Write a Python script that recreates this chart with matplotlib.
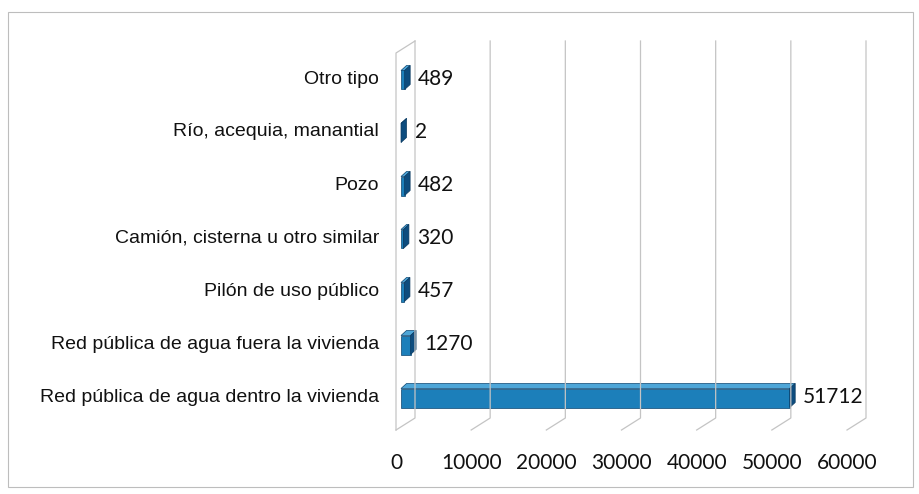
import matplotlib.pyplot as plt
from matplotlib.patches import Polygon, Rectangle
from matplotlib.transforms import IdentityTransform

categories = [
    "Red pública de agua dentro la vivienda",
    "Red pública de agua fuera la vivienda",
    "Pilón de uso público",
    "Camión, cisterna u otro similar",
    "Pozo",
    "Río, acequia, manantial",
    "Otro tipo",
]
values = [51712, 1270, 457, 320, 482, 2, 489]
ticks = [0, 10000, 20000, 30000, 40000, 50000, 60000]

W, H = 920, 494
fig = plt.figure(figsize=(W / 100, H / 100), dpi=100)
ax = fig.add_axes([396 / W, (H - 424.5) / H, 451 / W, 371 / H])
ax.set_xlim(0, 60000)
ax.set_ylim(-0.5, 6.5)
ax.axis("off")
pix = IdentityTransform()

def px(x, y):
    return ax.transData.transform((x, y))

# 3d walls: back offset of the plot box
back = (19, 12)
y_floor = -0.604
y_top = px(0, 6.5)[1] + 0.5
grid_c = "#c4c4c4"
for t in ticks:
    fx, fy = px(t, y_floor)
    bx, by = fx + back[0], fy + back[1]
    ax.plot([fx, bx, bx], [fy, by, y_top + back[1]], color=grid_c, lw=0.9,
            transform=pix, clip_on=False)
fx, fy = px(0, y_floor)
ax.plot([fx, fx, fx + back[0]], [fy, y_top, y_top + back[1]], color=grid_c,
        lw=0.9, transform=pix, clip_on=False)

# bars with depth
d = (5.5, 5)
half = 9.5
for i, v in enumerate(values):
    x0, yc = px(0, i)
    x1 = px(v, i)[0]
    x0 += 5
    x1 += 5
    yb, yt = yc - half, yc + half
    front = Polygon([(x0, yb), (x1, yb), (x1, yt), (x0, yt)], closed=True,
                    facecolor="#1c7fba", edgecolor="#0b4470", lw=0.5, transform=pix)
    top = Polygon([(x0, yt), (x1, yt), (x1 + d[0], yt + d[1]), (x0 + d[0], yt + d[1])],
                  closed=True, facecolor="#4ea6d8", edgecolor="#0b4470", lw=0.5, transform=pix)
    side = Polygon([(x1, yb), (x1, yt), (x1 + d[0], yt + d[1]), (x1 + d[0], yb + d[1])],
                   closed=True, facecolor="#0d4c7e", edgecolor="#0b3a60", lw=0.5, transform=pix)
    for p in (front, top, side):
        p.set_clip_on(False)
        ax.add_patch(p)
    ax.text(x1 + d[0] + 8, yc + 1, str(v), transform=pix, ha="left", va="center",
            fontsize=15, family=["Lato", "DejaVu Sans"], color="#111111")
    ax.text(379, yc + 1, categories[i], transform=pix, ha="right", va="center",
            fontsize=14, family=["Liberation Sans", "DejaVu Sans"],
            color="#111111")

for t in ticks:
    tx = px(t, 0)[0]
    ax.text(tx, H - 463, str(t), transform=pix, ha="center", va="center",
            fontsize=15, family=["Lato", "DejaVu Sans"], color="#111111")

fig.patches.append(Rectangle((8, 7), 905, 475, fill=False, edgecolor="#bdbdbd",
                             lw=0.8, transform=pix))

fig.savefig("out.png", dpi=100)
